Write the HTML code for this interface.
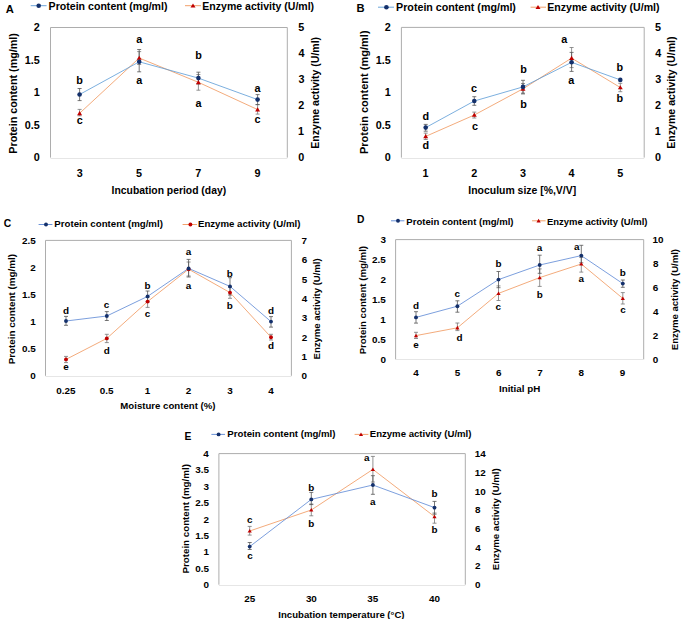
<!DOCTYPE html>
<html><head><meta charset="utf-8"><style>
html,body{margin:0;padding:0;background:#fff;}
svg{display:block;}
text{font-family:"Liberation Sans",sans-serif;font-weight:bold;fill:#000;}
</style></head><body>
<svg width="685" height="619" viewBox="0 0 685 619">
<rect width="685" height="619" fill="#fff"/>
<text x="5.72" y="12.80" font-size="11.200000000000001">A</text>
<line x1="30.7" y1="5.7" x2="46.6" y2="5.7" stroke="#5B9BD5" stroke-width="0.9"/>
<circle cx="38.70" cy="5.70" r="2.3" fill="#14306b"/>
<text x="48.59" y="9.60" font-size="10.8" textLength="118.94" lengthAdjust="spacingAndGlyphs" fill="#000">Protein content (mg/ml)</text>
<line x1="185" y1="5.7" x2="201" y2="5.7" stroke="#F0955A" stroke-width="0.9"/>
<path d="M193.00,3.42 L195.47,7.56 L190.53,7.56 Z" fill="#C00000"/>
<text x="202.30" y="9.60" font-size="10.8" textLength="111.83" lengthAdjust="spacingAndGlyphs" fill="#000">Enzyme activity (U/ml)</text>
<path d="M50.5,157.6 V27.5 H287.3 V157.6" stroke="#ADADAD" stroke-width="1" fill="none"/>
<line x1="50.5" y1="158.5" x2="287.3" y2="158.5" stroke="#E6E6E6" stroke-width="1"/>
<text x="33.84" y="161.37" font-size="10.8">0</text>
<text x="24.69" y="128.87" font-size="10.8">0.5</text>
<text x="33.69" y="96.37" font-size="10.8">1</text>
<text x="24.69" y="63.87" font-size="10.8">1.5</text>
<text x="33.83" y="31.37" font-size="10.8">2</text>
<text x="298.27" y="161.37" font-size="10.8">0</text>
<text x="298.02" y="135.37" font-size="10.8">1</text>
<text x="298.33" y="109.37" font-size="10.8">2</text>
<text x="298.45" y="83.37" font-size="10.8">3</text>
<text x="298.54" y="57.37" font-size="10.8">4</text>
<text x="298.37" y="31.37" font-size="10.8">5</text>
<text transform="translate(16.77,153.72) rotate(-90)" x="0" y="0" font-size="10.8" textLength="120.65" lengthAdjust="spacingAndGlyphs">Protein content (mg/ml)</text>
<text transform="translate(318.79,148.70) rotate(-90)" x="0" y="0" font-size="10.8" textLength="111.83" lengthAdjust="spacingAndGlyphs">Enzyme activity (U/ml)</text>
<text x="76.67" y="176.71" font-size="10.8" fill="#000">3</text>
<text x="135.98" y="176.66" font-size="10.8" fill="#000">5</text>
<text x="195.30" y="176.72" font-size="10.8" fill="#000">7</text>
<text x="254.61" y="176.72" font-size="10.8" fill="#000">9</text>
<text x="111.61" y="193.50" font-size="10.8" textLength="114.51" lengthAdjust="spacingAndGlyphs" fill="#000">Incubation period (day)</text>
<path d="M79.60,109.40 V115.80 M77.60,109.40 H81.60 M77.60,115.80 H81.60" stroke="#777777" stroke-width="0.8" fill="none"/>
<path d="M79.60,88.50 V100.60 M77.60,88.50 H81.60 M77.60,100.60 H81.60" stroke="#555555" stroke-width="0.8" fill="none"/>
<path d="M139.20,51.60 V64.50 M137.20,51.60 H141.20 M137.20,64.50 H141.20" stroke="#777777" stroke-width="0.8" fill="none"/>
<path d="M139.20,49.50 V71.80 M137.20,49.50 H141.20 M137.20,71.80 H141.20" stroke="#555555" stroke-width="0.8" fill="none"/>
<path d="M198.40,74.50 V90.20 M196.40,74.50 H200.40 M196.40,90.20 H200.40" stroke="#777777" stroke-width="0.8" fill="none"/>
<path d="M198.40,72.20 V84.00 M196.40,72.20 H200.40 M196.40,84.00 H200.40" stroke="#555555" stroke-width="0.8" fill="none"/>
<path d="M257.60,104.60 V114.10 M255.60,104.60 H259.60 M255.60,114.10 H259.60" stroke="#777777" stroke-width="0.8" fill="none"/>
<path d="M257.60,94.60 V104.60 M255.60,94.60 H259.60 M255.60,104.60 H259.60" stroke="#555555" stroke-width="0.8" fill="none"/>
<polyline points="79.60,113.30 139.20,58.00 198.40,82.30 257.60,109.60" fill="none" stroke="#F0955A" stroke-width="0.8"/>
<polyline points="79.60,94.50 139.20,61.80 198.40,78.10 257.60,99.60" fill="none" stroke="#5B9BD5" stroke-width="0.8"/>
<path d="M79.60,111.02 L82.07,115.16 L77.13,115.16 Z" fill="#C00000"/>
<path d="M139.20,55.72 L141.67,59.86 L136.73,59.86 Z" fill="#C00000"/>
<path d="M198.40,80.02 L200.87,84.16 L195.93,84.16 Z" fill="#C00000"/>
<path d="M257.60,107.32 L260.07,111.46 L255.13,111.46 Z" fill="#C00000"/>
<circle cx="79.60" cy="94.50" r="2.3" fill="#14306b"/>
<circle cx="139.20" cy="61.80" r="2.3" fill="#14306b"/>
<circle cx="198.40" cy="78.10" r="2.3" fill="#14306b"/>
<circle cx="257.60" cy="99.60" r="2.3" fill="#14306b"/>
<text x="76.17" y="84.26" font-size="10.8" fill="#000">b</text>
<text x="76.74" y="123.75" font-size="10.8" fill="#000">c</text>
<text x="136.20" y="42.85" font-size="10.8" fill="#000">a</text>
<text x="136.20" y="83.85" font-size="10.8" fill="#000">a</text>
<text x="195.17" y="58.86" font-size="10.8" fill="#000">b</text>
<text x="195.40" y="106.85" font-size="10.8" fill="#000">a</text>
<text x="254.40" y="91.85" font-size="10.8" fill="#000">a</text>
<text x="254.54" y="122.85" font-size="10.8" fill="#000">c</text>
<text x="356.55" y="11.50" font-size="11.200000000000001">B</text>
<line x1="378" y1="7.2" x2="394" y2="7.2" stroke="#5B9BD5" stroke-width="0.9"/>
<circle cx="386.40" cy="7.20" r="2.3" fill="#14306b"/>
<text x="396.09" y="10.60" font-size="10.8" textLength="119.85" lengthAdjust="spacingAndGlyphs" fill="#000">Protein content (mg/ml)</text>
<line x1="530.6" y1="7.2" x2="546" y2="7.2" stroke="#F0955A" stroke-width="0.9"/>
<path d="M538.00,4.92 L540.47,9.06 L535.53,9.06 Z" fill="#C00000"/>
<text x="547.29" y="10.60" font-size="10.8" textLength="112.23" lengthAdjust="spacingAndGlyphs" fill="#000">Enzyme activity (U/ml)</text>
<path d="M401.4,157.6 V27.4 H644.2 V157.6" stroke="#ADADAD" stroke-width="1" fill="none"/>
<line x1="401.4" y1="158.5" x2="644.2" y2="158.5" stroke="#E6E6E6" stroke-width="1"/>
<text x="384.84" y="161.37" font-size="10.8">0</text>
<text x="375.69" y="128.87" font-size="10.8">0.5</text>
<text x="384.69" y="96.37" font-size="10.8">1</text>
<text x="375.69" y="63.87" font-size="10.8">1.5</text>
<text x="384.83" y="31.37" font-size="10.8">2</text>
<text x="654.97" y="161.37" font-size="10.8">0</text>
<text x="654.72" y="135.37" font-size="10.8">1</text>
<text x="655.03" y="109.37" font-size="10.8">2</text>
<text x="655.15" y="83.37" font-size="10.8">3</text>
<text x="655.24" y="57.37" font-size="10.8">4</text>
<text x="655.07" y="31.37" font-size="10.8">5</text>
<text transform="translate(367.57,154.04) rotate(-90)" x="0" y="0" font-size="10.8" textLength="123.59" lengthAdjust="spacingAndGlyphs">Protein content (mg/ml)</text>
<text transform="translate(675.19,148.71) rotate(-90)" x="0" y="0" font-size="10.8" textLength="112.23" lengthAdjust="spacingAndGlyphs">Enzyme activity (U/ml)</text>
<text x="422.51" y="177.22" font-size="10.8" fill="#000">1</text>
<text x="471.33" y="177.27" font-size="10.8" fill="#000">2</text>
<text x="520.07" y="177.21" font-size="10.8" fill="#000">3</text>
<text x="568.54" y="177.22" font-size="10.8" fill="#000">4</text>
<text x="617.28" y="177.16" font-size="10.8" fill="#000">5</text>
<text x="468.30" y="193.50" font-size="10.8" textLength="107.88" lengthAdjust="spacingAndGlyphs" fill="#000">Inoculum size [%,V/V]</text>
<path d="M425.70,133.10 V139.50 M423.70,133.10 H427.70 M423.70,139.50 H427.70" stroke="#777777" stroke-width="0.8" fill="none"/>
<path d="M425.70,124.40 V131.20 M423.70,124.40 H427.70 M423.70,131.20 H427.70" stroke="#555555" stroke-width="0.8" fill="none"/>
<path d="M474.30,112.10 V118.00 M472.30,112.10 H476.30 M472.30,118.00 H476.30" stroke="#777777" stroke-width="0.8" fill="none"/>
<path d="M474.30,96.70 V105.30 M472.30,96.70 H476.30 M472.30,105.30 H476.30" stroke="#555555" stroke-width="0.8" fill="none"/>
<path d="M523.00,83.50 V94.00 M521.00,83.50 H525.00 M521.00,94.00 H525.00" stroke="#777777" stroke-width="0.8" fill="none"/>
<path d="M523.00,80.30 V93.20 M521.00,80.30 H525.00 M521.00,93.20 H525.00" stroke="#555555" stroke-width="0.8" fill="none"/>
<path d="M571.60,47.50 V67.60 M569.60,47.50 H573.60 M569.60,67.60 H573.60" stroke="#777777" stroke-width="0.8" fill="none"/>
<path d="M571.60,52.40 V71.40 M569.60,52.40 H573.60 M569.60,71.40 H573.60" stroke="#555555" stroke-width="0.8" fill="none"/>
<path d="M620.30,83.30 V91.70 M618.30,83.30 H622.30 M618.30,91.70 H622.30" stroke="#777777" stroke-width="0.8" fill="none"/>
<polyline points="425.70,136.40 474.30,115.00 523.00,88.80 571.60,58.10 620.30,87.50" fill="none" stroke="#F0955A" stroke-width="0.8"/>
<polyline points="425.70,127.60 474.30,101.00 523.00,86.90 571.60,62.30 620.30,79.90" fill="none" stroke="#5B9BD5" stroke-width="0.8"/>
<path d="M425.70,134.12 L428.17,138.26 L423.23,138.26 Z" fill="#C00000"/>
<path d="M474.30,112.72 L476.77,116.86 L471.83,116.86 Z" fill="#C00000"/>
<path d="M523.00,86.52 L525.47,90.66 L520.53,90.66 Z" fill="#C00000"/>
<path d="M571.60,55.82 L574.07,59.96 L569.13,59.96 Z" fill="#C00000"/>
<path d="M620.30,85.22 L622.77,89.36 L617.83,89.36 Z" fill="#C00000"/>
<circle cx="425.70" cy="127.60" r="2.3" fill="#14306b"/>
<circle cx="474.30" cy="101.00" r="2.3" fill="#14306b"/>
<circle cx="523.00" cy="86.90" r="2.3" fill="#14306b"/>
<circle cx="571.60" cy="62.30" r="2.3" fill="#14306b"/>
<circle cx="620.30" cy="79.90" r="2.3" fill="#14306b"/>
<text x="422.44" y="119.86" font-size="10.8" fill="#000">d</text>
<text x="422.44" y="149.46" font-size="10.8" fill="#000">d</text>
<text x="470.94" y="92.45" font-size="10.8" fill="#000">c</text>
<text x="471.94" y="129.85" font-size="10.8" fill="#000">c</text>
<text x="520.17" y="73.46" font-size="10.8" fill="#000">b</text>
<text x="520.17" y="108.26" font-size="10.8" fill="#000">b</text>
<text x="561.20" y="43.45" font-size="10.8" fill="#000">a</text>
<text x="568.20" y="83.85" font-size="10.8" fill="#000">a</text>
<text x="616.57" y="71.46" font-size="10.8" fill="#000">b</text>
<text x="616.57" y="102.26" font-size="10.8" fill="#000">b</text>
<text x="3.78" y="227.20" font-size="10.3">C</text>
<line x1="38.6" y1="224.5" x2="52.4" y2="224.5" stroke="#5A86D4" stroke-width="0.9"/>
<circle cx="46.00" cy="224.50" r="1.95" fill="#14306b"/>
<text x="54.35" y="227.20" font-size="9.9" textLength="108.53" lengthAdjust="spacingAndGlyphs" fill="#000">Protein content (mg/ml)</text>
<line x1="182.6" y1="224.5" x2="197" y2="224.5" stroke="#F0955A" stroke-width="0.9"/>
<circle cx="190.40" cy="224.50" r="1.95" fill="#C00000"/>
<text x="197.95" y="227.20" font-size="9.9" textLength="102.53" lengthAdjust="spacingAndGlyphs" fill="#000">Enzyme activity (U/ml)</text>
<path d="M45.5,375.8 V240.4 H291.4 V375.8" stroke="#ADADAD" stroke-width="1" fill="none"/>
<line x1="45.5" y1="376.5" x2="291.4" y2="376.5" stroke="#E6E6E6" stroke-width="1"/>
<text x="30.30" y="379.26" font-size="9.9">0</text>
<text x="21.91" y="352.21" font-size="9.9">0.5</text>
<text x="30.17" y="325.16" font-size="9.9">1</text>
<text x="21.91" y="298.11" font-size="9.9">1.5</text>
<text x="30.29" y="271.06" font-size="9.9">2</text>
<text x="21.91" y="244.01" font-size="9.9">2.5</text>
<text x="301.61" y="379.26" font-size="9.9">0</text>
<text x="301.38" y="359.94" font-size="9.9">1</text>
<text x="301.66" y="340.62" font-size="9.9">2</text>
<text x="301.77" y="321.30" font-size="9.9">3</text>
<text x="301.85" y="301.98" font-size="9.9">4</text>
<text x="301.70" y="282.66" font-size="9.9">5</text>
<text x="301.64" y="263.34" font-size="9.9">6</text>
<text x="301.57" y="244.02" font-size="9.9">7</text>
<text transform="translate(15.44,364.36) rotate(-90)" x="0" y="0" font-size="9.9" textLength="110.35" lengthAdjust="spacingAndGlyphs">Protein content (mg/ml)</text>
<text transform="translate(320.06,359.44) rotate(-90)" x="0" y="0" font-size="9.9" textLength="101.11" lengthAdjust="spacingAndGlyphs">Enzyme activity (U/ml)</text>
<text x="56.31" y="393.91" font-size="9.9" fill="#000">0.25</text>
<text x="99.66" y="393.91" font-size="9.9" fill="#000">0.5</text>
<text x="144.67" y="393.91" font-size="9.9" fill="#000">1</text>
<text x="185.87" y="393.96" font-size="9.9" fill="#000">2</text>
<text x="227.31" y="393.90" font-size="9.9" fill="#000">3</text>
<text x="268.20" y="393.91" font-size="9.9" fill="#000">4</text>
<text x="120.36" y="409.00" font-size="9.9" textLength="95.12" lengthAdjust="spacingAndGlyphs" fill="#000">Moisture content (%)</text>
<path d="M66.00,356.40 V362.60 M64.00,356.40 H68.00 M64.00,362.60 H68.00" stroke="#777777" stroke-width="0.8" fill="none"/>
<path d="M66.00,316.40 V325.30 M64.00,316.40 H68.00 M64.00,325.30 H68.00" stroke="#555555" stroke-width="0.8" fill="none"/>
<path d="M106.80,334.30 V342.60 M104.80,334.30 H108.80 M104.80,342.60 H108.80" stroke="#777777" stroke-width="0.8" fill="none"/>
<path d="M106.80,311.60 V320.50 M104.80,311.60 H108.80 M104.80,320.50 H108.80" stroke="#555555" stroke-width="0.8" fill="none"/>
<path d="M147.60,297.00 V307.40 M145.60,297.00 H149.60 M145.60,307.40 H149.60" stroke="#777777" stroke-width="0.8" fill="none"/>
<path d="M147.60,291.00 V302.00 M145.60,291.00 H149.60 M145.60,302.00 H149.60" stroke="#555555" stroke-width="0.8" fill="none"/>
<path d="M188.60,262.00 V276.00 M186.60,262.00 H190.60 M186.60,276.00 H190.60" stroke="#777777" stroke-width="0.8" fill="none"/>
<path d="M188.60,259.40 V277.00 M186.60,259.40 H190.60 M186.60,277.00 H190.60" stroke="#555555" stroke-width="0.8" fill="none"/>
<path d="M230.00,287.00 V298.30 M228.00,287.00 H232.00 M228.00,298.30 H232.00" stroke="#777777" stroke-width="0.8" fill="none"/>
<path d="M230.00,277.70 V295.00 M228.00,277.70 H232.00 M228.00,295.00 H232.00" stroke="#555555" stroke-width="0.8" fill="none"/>
<path d="M271.00,334.30 V340.00 M269.00,334.30 H273.00 M269.00,340.00 H273.00" stroke="#777777" stroke-width="0.8" fill="none"/>
<path d="M271.00,316.60 V327.10 M269.00,316.60 H273.00 M269.00,327.10 H273.00" stroke="#555555" stroke-width="0.8" fill="none"/>
<polyline points="66.00,359.40 106.80,338.40 147.60,301.60 188.60,269.20 230.00,292.60 271.00,337.20" fill="none" stroke="#F0955A" stroke-width="0.8"/>
<polyline points="66.00,321.00 106.80,316.00 147.60,296.40 188.60,268.40 230.00,286.40 271.00,321.60" fill="none" stroke="#5A86D4" stroke-width="0.8"/>
<circle cx="66.00" cy="359.40" r="1.95" fill="#C00000"/>
<circle cx="106.80" cy="338.40" r="1.95" fill="#C00000"/>
<circle cx="147.60" cy="301.60" r="1.95" fill="#C00000"/>
<circle cx="188.60" cy="269.20" r="1.95" fill="#C00000"/>
<circle cx="230.00" cy="292.60" r="1.95" fill="#C00000"/>
<circle cx="271.00" cy="337.20" r="1.95" fill="#C00000"/>
<circle cx="66.00" cy="321.00" r="1.95" fill="#14306b"/>
<circle cx="106.80" cy="316.00" r="1.95" fill="#14306b"/>
<circle cx="147.60" cy="296.40" r="1.95" fill="#14306b"/>
<circle cx="188.60" cy="268.40" r="1.95" fill="#14306b"/>
<circle cx="230.00" cy="286.40" r="1.95" fill="#14306b"/>
<circle cx="271.00" cy="321.60" r="1.95" fill="#14306b"/>
<text x="63.10" y="313.54" font-size="9.9" fill="#000">d</text>
<text x="63.22" y="369.62" font-size="9.9" fill="#000">e</text>
<text x="103.80" y="307.62" font-size="9.9" fill="#000">c</text>
<text x="103.70" y="354.14" font-size="9.9" fill="#000">d</text>
<text x="144.45" y="288.54" font-size="9.9" fill="#000">b</text>
<text x="144.80" y="317.22" font-size="9.9" fill="#000">c</text>
<text x="185.67" y="255.02" font-size="9.9" fill="#000">a</text>
<text x="185.67" y="288.62" font-size="9.9" fill="#000">a</text>
<text x="226.85" y="277.14" font-size="9.9" fill="#000">b</text>
<text x="226.85" y="309.14" font-size="9.9" fill="#000">b</text>
<text x="268.10" y="314.14" font-size="9.9" fill="#000">d</text>
<text x="268.10" y="349.14" font-size="9.9" fill="#000">d</text>
<text x="357.01" y="223.00" font-size="10.3">D</text>
<line x1="391" y1="220.8" x2="404.4" y2="220.8" stroke="#5A86D4" stroke-width="0.9"/>
<circle cx="398.00" cy="220.80" r="1.95" fill="#14306b"/>
<text x="406.36" y="224.50" font-size="9.9" textLength="107.11" lengthAdjust="spacingAndGlyphs" fill="#000">Protein content (mg/ml)</text>
<line x1="532" y1="220.8" x2="545.6" y2="220.8" stroke="#F0955A" stroke-width="0.9"/>
<path d="M538.60,218.87 L540.70,222.38 L536.50,222.38 Z" fill="#C00000"/>
<text x="546.97" y="224.50" font-size="9.9" textLength="100.51" lengthAdjust="spacingAndGlyphs" fill="#000">Enzyme activity (U/ml)</text>
<path d="M395.6,359.4 V239.6 H643.7 V359.4" stroke="#ADADAD" stroke-width="1" fill="none"/>
<line x1="395.6" y1="359.5" x2="643.7" y2="359.5" stroke="#E6E6E6" stroke-width="1"/>
<text x="380.50" y="362.86" font-size="9.9">0</text>
<text x="372.11" y="342.89" font-size="9.9">0.5</text>
<text x="380.37" y="322.92" font-size="9.9">1</text>
<text x="372.11" y="302.95" font-size="9.9">1.5</text>
<text x="380.49" y="282.98" font-size="9.9">2</text>
<text x="372.11" y="263.01" font-size="9.9">2.5</text>
<text x="380.45" y="243.04" font-size="9.9">3</text>
<text x="652.81" y="362.86" font-size="9.9">0</text>
<text x="652.86" y="338.90" font-size="9.9">2</text>
<text x="653.05" y="314.94" font-size="9.9">4</text>
<text x="652.84" y="290.98" font-size="9.9">6</text>
<text x="652.89" y="267.02" font-size="9.9">8</text>
<text x="652.58" y="243.06" font-size="9.9">10</text>
<text transform="translate(366.34,354.35) rotate(-90)" x="0" y="0" font-size="9.9" textLength="108.43" lengthAdjust="spacingAndGlyphs">Protein content (mg/ml)</text>
<text transform="translate(677.56,350.14) rotate(-90)" x="0" y="0" font-size="9.9" textLength="101.11" lengthAdjust="spacingAndGlyphs">Enzyme activity (U/ml)</text>
<text x="413.20" y="376.41" font-size="9.9" fill="#000">4</text>
<text x="454.63" y="376.36" font-size="9.9" fill="#000">5</text>
<text x="495.94" y="376.41" font-size="9.9" fill="#000">6</text>
<text x="537.25" y="376.41" font-size="9.9" fill="#000">7</text>
<text x="578.54" y="376.41" font-size="9.9" fill="#000">8</text>
<text x="619.86" y="376.41" font-size="9.9" fill="#000">9</text>
<text x="498.95" y="391.50" font-size="9.9" textLength="41.31" lengthAdjust="spacingAndGlyphs" fill="#000">Initial pH</text>
<path d="M416.00,332.30 V338.50 M414.00,332.30 H418.00 M414.00,338.50 H418.00" stroke="#777777" stroke-width="0.8" fill="none"/>
<path d="M416.00,311.70 V323.10 M414.00,311.70 H418.00 M414.00,323.10 H418.00" stroke="#555555" stroke-width="0.8" fill="none"/>
<path d="M457.40,323.00 V330.60 M455.40,323.00 H459.40 M455.40,330.60 H459.40" stroke="#777777" stroke-width="0.8" fill="none"/>
<path d="M457.40,300.80 V312.20 M455.40,300.80 H459.40 M455.40,312.20 H459.40" stroke="#555555" stroke-width="0.8" fill="none"/>
<path d="M498.50,285.90 V300.50 M496.50,285.90 H500.50 M496.50,300.50 H500.50" stroke="#777777" stroke-width="0.8" fill="none"/>
<path d="M498.50,271.50 V287.70 M496.50,271.50 H500.50 M496.50,287.70 H500.50" stroke="#555555" stroke-width="0.8" fill="none"/>
<path d="M539.70,268.90 V286.40 M537.70,268.90 H541.70 M537.70,286.40 H541.70" stroke="#777777" stroke-width="0.8" fill="none"/>
<path d="M539.70,255.20 V273.30 M537.70,255.20 H541.70 M537.70,273.30 H541.70" stroke="#555555" stroke-width="0.8" fill="none"/>
<path d="M581.30,257.50 V272.10 M579.30,257.50 H583.30 M579.30,272.10 H583.30" stroke="#777777" stroke-width="0.8" fill="none"/>
<path d="M581.30,245.30 V262.80 M579.30,245.30 H583.30 M579.30,262.80 H583.30" stroke="#555555" stroke-width="0.8" fill="none"/>
<path d="M622.80,292.60 V304.00 M620.80,292.60 H624.80 M620.80,304.00 H624.80" stroke="#777777" stroke-width="0.8" fill="none"/>
<path d="M622.80,280.00 V287.30 M620.80,280.00 H624.80 M620.80,287.30 H624.80" stroke="#555555" stroke-width="0.8" fill="none"/>
<polyline points="416.00,335.60 457.40,327.80 498.50,293.40 539.70,277.60 581.30,264.00 622.80,298.40" fill="none" stroke="#F0955A" stroke-width="0.8"/>
<polyline points="416.00,317.40 457.40,306.20 498.50,279.60 539.70,265.00 581.30,255.60 622.80,283.60" fill="none" stroke="#5A86D4" stroke-width="0.8"/>
<path d="M416.00,333.67 L418.10,337.18 L413.90,337.18 Z" fill="#C00000"/>
<path d="M457.40,325.87 L459.50,329.38 L455.30,329.38 Z" fill="#C00000"/>
<path d="M498.50,291.47 L500.60,294.98 L496.40,294.98 Z" fill="#C00000"/>
<path d="M539.70,275.67 L541.80,279.18 L537.60,279.18 Z" fill="#C00000"/>
<path d="M581.30,262.07 L583.40,265.58 L579.20,265.58 Z" fill="#C00000"/>
<path d="M622.80,296.47 L624.90,299.98 L620.70,299.98 Z" fill="#C00000"/>
<circle cx="416.00" cy="317.40" r="1.95" fill="#14306b"/>
<circle cx="457.40" cy="306.20" r="1.95" fill="#14306b"/>
<circle cx="498.50" cy="279.60" r="1.95" fill="#14306b"/>
<circle cx="539.70" cy="265.00" r="1.95" fill="#14306b"/>
<circle cx="581.30" cy="255.60" r="1.95" fill="#14306b"/>
<circle cx="622.80" cy="283.60" r="1.95" fill="#14306b"/>
<text x="413.10" y="308.54" font-size="9.9" fill="#000">d</text>
<text x="413.22" y="348.42" font-size="9.9" fill="#000">e</text>
<text x="454.60" y="296.62" font-size="9.9" fill="#000">c</text>
<text x="456.50" y="340.94" font-size="9.9" fill="#000">d</text>
<text x="495.45" y="267.24" font-size="9.9" fill="#000">b</text>
<text x="495.60" y="309.62" font-size="9.9" fill="#000">c</text>
<text x="536.67" y="250.62" font-size="9.9" fill="#000">a</text>
<text x="536.85" y="297.54" font-size="9.9" fill="#000">b</text>
<text x="574.07" y="249.62" font-size="9.9" fill="#000">a</text>
<text x="578.47" y="282.22" font-size="9.9" fill="#000">a</text>
<text x="619.85" y="275.94" font-size="9.9" fill="#000">b</text>
<text x="620.20" y="312.62" font-size="9.9" fill="#000">c</text>
<text x="184.51" y="440.00" font-size="10.3">E</text>
<line x1="211.4" y1="434.4" x2="225" y2="434.4" stroke="#5A86D4" stroke-width="0.9"/>
<circle cx="218.60" cy="434.40" r="1.95" fill="#14306b"/>
<text x="227.36" y="437.20" font-size="9.9" textLength="108.12" lengthAdjust="spacingAndGlyphs" fill="#000">Protein content (mg/ml)</text>
<line x1="354.6" y1="434.4" x2="368.4" y2="434.4" stroke="#F0955A" stroke-width="0.9"/>
<path d="M361.00,432.47 L363.10,435.98 L358.90,435.98 Z" fill="#C00000"/>
<text x="369.76" y="437.20" font-size="9.9" textLength="101.72" lengthAdjust="spacingAndGlyphs" fill="#000">Enzyme activity (U/ml)</text>
<path d="M218.9,584.7 V453.6 H465.3 V584.7" stroke="#ADADAD" stroke-width="1" fill="none"/>
<line x1="218.9" y1="585.5" x2="465.3" y2="585.5" stroke="#E6E6E6" stroke-width="1"/>
<text x="203.60" y="588.16" font-size="9.9">0</text>
<text x="195.21" y="571.77" font-size="9.9">0.5</text>
<text x="203.47" y="555.38" font-size="9.9">1</text>
<text x="195.21" y="538.99" font-size="9.9">1.5</text>
<text x="203.59" y="522.60" font-size="9.9">2</text>
<text x="195.21" y="506.21" font-size="9.9">2.5</text>
<text x="203.55" y="489.82" font-size="9.9">3</text>
<text x="195.21" y="473.43" font-size="9.9">3.5</text>
<text x="203.25" y="457.04" font-size="9.9">4</text>
<text x="474.91" y="588.16" font-size="9.9">0</text>
<text x="474.96" y="569.43" font-size="9.9">2</text>
<text x="475.15" y="550.70" font-size="9.9">4</text>
<text x="474.94" y="531.97" font-size="9.9">6</text>
<text x="474.99" y="513.24" font-size="9.9">8</text>
<text x="474.68" y="494.51" font-size="9.9">10</text>
<text x="474.68" y="475.78" font-size="9.9">12</text>
<text x="474.68" y="457.05" font-size="9.9">14</text>
<text transform="translate(188.84,573.55) rotate(-90)" x="0" y="0" font-size="9.9" textLength="109.44" lengthAdjust="spacingAndGlyphs">Protein content (mg/ml)</text>
<text transform="translate(499.46,570.14) rotate(-90)" x="0" y="0" font-size="9.9" textLength="101.87" lengthAdjust="spacingAndGlyphs">Enzyme activity (U/ml)</text>
<text x="244.16" y="601.81" font-size="9.9" fill="#000">25</text>
<text x="305.88" y="601.80" font-size="9.9" fill="#000">30</text>
<text x="367.32" y="601.80" font-size="9.9" fill="#000">35</text>
<text x="429.02" y="601.81" font-size="9.9" fill="#000">40</text>
<text x="278.36" y="617.50" font-size="9.9" textLength="126.12" lengthAdjust="spacingAndGlyphs" fill="#000">Incubation temperature (°C)</text>
<path d="M249.70,526.40 V535.10 M247.70,526.40 H251.70 M247.70,535.10 H251.70" stroke="#777777" stroke-width="0.8" fill="none"/>
<path d="M249.70,542.50 V549.50 M247.70,542.50 H251.70 M247.70,549.50 H251.70" stroke="#555555" stroke-width="0.8" fill="none"/>
<path d="M311.30,504.00 V515.80 M309.30,504.00 H313.30 M309.30,515.80 H313.30" stroke="#777777" stroke-width="0.8" fill="none"/>
<path d="M311.30,492.40 V504.60 M309.30,492.40 H313.30 M309.30,504.60 H313.30" stroke="#555555" stroke-width="0.8" fill="none"/>
<path d="M372.90,456.40 V482.00 M370.90,456.40 H374.90 M370.90,482.00 H374.90" stroke="#777777" stroke-width="0.8" fill="none"/>
<path d="M372.90,475.70 V494.30 M370.90,475.70 H374.90 M370.90,494.30 H374.90" stroke="#555555" stroke-width="0.8" fill="none"/>
<path d="M434.50,513.00 V523.20 M432.50,513.00 H436.50 M432.50,523.20 H436.50" stroke="#777777" stroke-width="0.8" fill="none"/>
<path d="M434.50,501.40 V514.20 M432.50,501.40 H436.50 M432.50,514.20 H436.50" stroke="#555555" stroke-width="0.8" fill="none"/>
<polyline points="249.70,531.00 311.30,510.00 372.90,469.40 434.50,516.60" fill="none" stroke="#F0955A" stroke-width="0.8"/>
<polyline points="249.70,546.60 311.30,499.40 372.90,485.00 434.50,507.60" fill="none" stroke="#5A86D4" stroke-width="0.8"/>
<path d="M249.70,529.07 L251.80,532.58 L247.60,532.58 Z" fill="#C00000"/>
<path d="M311.30,508.07 L313.40,511.58 L309.20,511.58 Z" fill="#C00000"/>
<path d="M372.90,467.47 L375.00,470.98 L370.80,470.98 Z" fill="#C00000"/>
<path d="M434.50,514.67 L436.60,518.18 L432.40,518.18 Z" fill="#C00000"/>
<circle cx="249.70" cy="546.60" r="1.95" fill="#14306b"/>
<circle cx="311.30" cy="499.40" r="1.95" fill="#14306b"/>
<circle cx="372.90" cy="485.00" r="1.95" fill="#14306b"/>
<circle cx="434.50" cy="507.60" r="1.95" fill="#14306b"/>
<text x="247.00" y="522.82" font-size="9.9" fill="#000">c</text>
<text x="247.20" y="558.82" font-size="9.9" fill="#000">c</text>
<text x="308.25" y="491.14" font-size="9.9" fill="#000">b</text>
<text x="308.25" y="526.54" font-size="9.9" fill="#000">b</text>
<text x="364.07" y="461.02" font-size="9.9" fill="#000">a</text>
<text x="370.07" y="505.02" font-size="9.9" fill="#000">a</text>
<text x="431.45" y="497.14" font-size="9.9" fill="#000">b</text>
<text x="431.45" y="532.54" font-size="9.9" fill="#000">b</text>
</svg>
</body></html>
